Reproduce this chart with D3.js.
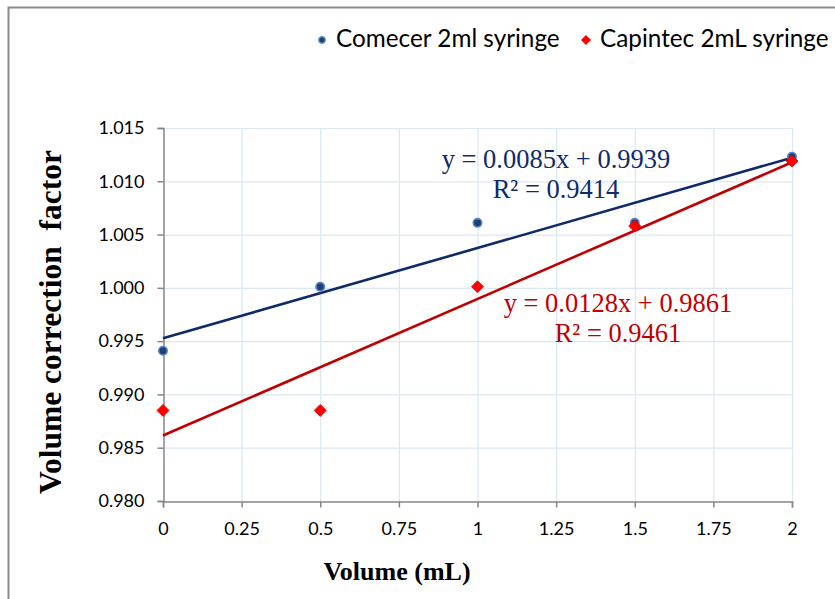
<!DOCTYPE html>
<html>
<head>
<meta charset="utf-8">
<script src="https://cdn.jsdelivr.net/npm/d3@7"></script>
<style>
  html, body { margin: 0; padding: 0; background: #fff; }
  svg { display: block; }
</style>
</head>
<body>
<svg id="chart" width="835" height="599"></svg>
<script>
// Volumes measured (mL)
const volumes = [0, 0.5, 1, 1.5, 2];
// Volume correction factors per syringe
const comecer = [0.9941, 1.0001, 1.0061, 1.0061, 1.0123];
const capintec = [0.9885, 0.9885, 1.0001, 1.0058, 1.0119];
const seriesNames = ["Comecer 2ml syringe", "Capintec 2mL syringe"];
// Trendline equations as printed on the chart
const equations = ["y = 0.0085x + 0.9939", "y = 0.0128x + 0.9861"];
const rSquared = ["R² = 0.9414", "R² = 0.9461"];
// Axis ticks
const xTicks = [0, 0.25, 0.5, 0.75, 1, 1.25, 1.5, 1.75, 2];
const xTickLabels = ["0", "0.25", "0.5", "0.75", "1", "1.25", "1.5", "1.75", "2"];
const yTicks = [0.980, 0.985, 0.990, 0.995, 1.000, 1.005, 1.010, 1.015];

const svg = d3.select("#chart");
const W = 835, H = 599;
const plotL = 163, plotR = 792, plotT = 128, plotB = 501;

const x = d3.scaleLinear().domain([0, 2]).range([plotL, plotR]);
const y = d3.scaleLinear().domain([0.980, 1.015]).range([plotB, plotT]);

// Outer frame (only left and top edges fall inside the canvas)
svg.append("path")
  .attr("d", `M8.5,${H} V7.5 H${W}`)
  .attr("fill", "none")
  .attr("stroke", "#8c8c8c")
  .attr("stroke-width", 2);

// Gridlines
const grid = svg.append("g");
grid.selectAll("line.h").data(yTicks.slice(1)).join("line")
  .attr("x1", plotL).attr("x2", plotR)
  .attr("y1", d => y(d) + 0.5).attr("y2", d => y(d) + 0.5)
  .attr("stroke", "#dbe7f4").attr("stroke-width", 1.2);
grid.selectAll("line.v").data(xTicks.slice(1)).join("line")
  .attr("x1", d => x(d) + 0.5).attr("x2", d => x(d) + 0.5)
  .attr("y1", plotT).attr("y2", plotB)
  .attr("stroke", "#dbe7f4").attr("stroke-width", 1.2);

// Axes
const tickFont = "Lato, 'Open Sans', sans-serif";
const yAxis = svg.append("g")
  .attr("transform", `translate(${plotL + 0.5},0)`)
  .call(d3.axisLeft(y).tickValues(yTicks).tickFormat(d3.format(".3f")).tickSize(6).tickPadding(13));
const xAxis = svg.append("g")
  .attr("transform", `translate(0,${plotB + 0.5})`)
  .call(d3.axisBottom(x).tickValues(xTicks).tickFormat((d, i) => xTickLabels[i]).tickSize(6).tickPadding(15));
[yAxis, xAxis].forEach(a => {
  a.select(".domain").attr("stroke", "#868686").attr("stroke-width", 1.5);
  a.selectAll(".tick line").attr("stroke", "#868686").attr("stroke-width", 1.5);
  a.selectAll(".tick text").attr("fill", "#000").style("font-family", tickFont).style("font-size", "18px");
});

// Least-squares trendline over the plotted points
function fit(xs, ys) {
  const n = xs.length;
  const mx = d3.mean(xs), my = d3.mean(ys);
  let sxy = 0, sxx = 0;
  for (let i = 0; i < n; i++) { sxy += (xs[i] - mx) * (ys[i] - my); sxx += (xs[i] - mx) ** 2; }
  const m = sxy / sxx;
  return { m, b: my - m * mx };
}

const series = [
  { name: seriesNames[0], values: comecer, line: "#0f2a6b" },
  { name: seriesNames[1], values: capintec, line: "#c00000" }
];

series.forEach(s => {
  const f = fit(volumes, s.values);
  svg.append("line")
    .attr("x1", x(0)).attr("y1", y(f.b))
    .attr("x2", x(2)).attr("y2", y(f.m * 2 + f.b))
    .attr("stroke", s.line).attr("stroke-width", 2.6);
});

// Markers
const circleSym = d3.symbol().type(d3.symbolCircle).size(56);
const diamondSym = d3.symbol().type(d3.symbolSquare).size(72);

svg.append("g").selectAll("path").data(volumes).join("path")
  .attr("d", circleSym)
  .attr("transform", (d, i) => `translate(${x(d)},${y(comecer[i])})`)
  .attr("fill", "#1f3f7a").attr("stroke", "#5b86c2").attr("stroke-width", 1.6);

svg.append("g").selectAll("path").data(volumes).join("path")
  .attr("d", diamondSym)
  .attr("transform", (d, i) => `translate(${x(d)},${y(capintec[i])}) rotate(45)`)
  .attr("fill", "#ff0000").attr("stroke", "#e00000").attr("stroke-width", 0.8);

// Trendline equations
const serif = "'Liberation Serif', 'Times New Roman', serif";
const eq = svg.append("g").style("font-family", serif).style("font-size", "26.5px");
eq.append("text").attr("x", 556).attr("y", 168).attr("text-anchor", "middle").attr("fill", "#0f2a6b").text(equations[0]);
eq.append("text").attr("x", 556).attr("y", 198).attr("text-anchor", "middle").attr("fill", "#0f2a6b").text(rSquared[0]);
eq.append("text").attr("x", 618).attr("y", 312).attr("text-anchor", "middle").attr("fill", "#c00000").text(equations[1]);
eq.append("text").attr("x", 618).attr("y", 342).attr("text-anchor", "middle").attr("fill", "#c00000").text(rSquared[1]);

// Axis titles
svg.append("text")
  .attr("transform", `translate(61,322) rotate(-90)`)
  .attr("text-anchor", "middle")
  .style("white-space", "pre")
  .style("font-family", serif).style("font-weight", "bold").style("font-size", "31.5px")
  .text("Volume correction  factor");
svg.append("text")
  .attr("x", 397).attr("y", 580)
  .attr("text-anchor", "middle")
  .style("font-family", serif).style("font-weight", "bold").style("font-size", "26px")
  .text("Volume (mL)");

// Legend
const legend = svg.append("g").style("font-family", tickFont).style("font-size", "24.3px");
legend.append("path").attr("d", d3.symbol().type(d3.symbolCircle).size(32)()).attr("transform", "translate(322,40)")
  .attr("fill", "#1f3f7a").attr("stroke", "#5b86c2").attr("stroke-width", 1.4);
legend.append("text").attr("x", 336).attr("y", 47).text(seriesNames[0]);
legend.append("path").attr("d", d3.symbol().type(d3.symbolSquare).size(50)()).attr("transform", "translate(586,40) rotate(45)")
  .attr("fill", "#ff0000");
legend.append("text").attr("x", 600).attr("y", 47).text(seriesNames[1]);
</script>
</body>
</html>
